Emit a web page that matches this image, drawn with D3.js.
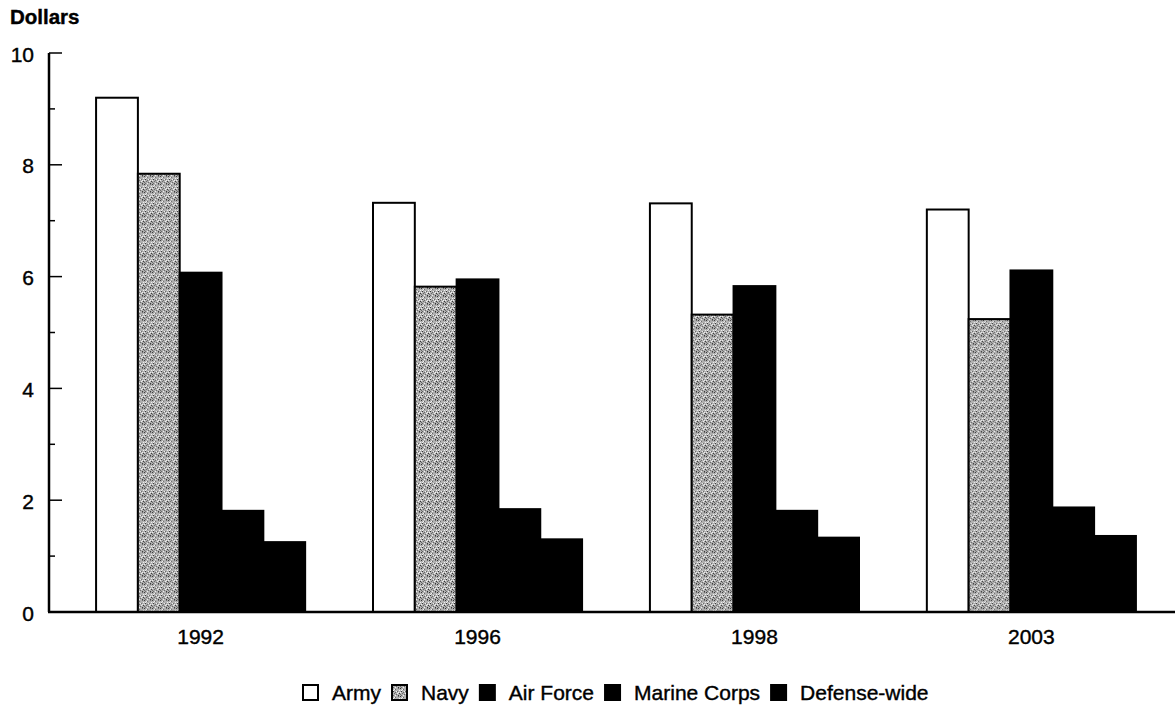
<!DOCTYPE html>
<html>
<head>
<meta charset="utf-8">
<script src="https://cdn.jsdelivr.net/npm/d3@7"></script>
<style>
  body { margin: 0; background: #fff; }
  svg { display: block; }
  text { font-family: "Liberation Sans", Arial, Helvetica, sans-serif; fill: #000; stroke: #000; stroke-width: 0.4px; }
</style>
</head>
<body>
<svg id="chart" width="1175" height="706"></svg>
<script>
const years = ["1992", "1996", "1998", "2003"];
const services = ["Army", "Navy", "Air Force", "Marine Corps", "Defense-wide"];
const army = [9.20, 7.32, 7.31, 7.20];
const navy = [7.84, 5.82, 5.32, 5.24];
const airForce = [6.07, 5.95, 5.83, 6.11];
const marineCorps = [1.81, 1.84, 1.81, 1.87];
const defenseWide = [1.25, 1.30, 1.33, 1.36];
const yTicks = [0, 2, 4, 6, 8, 10];
const yMinorTicks = [1, 3, 5, 7, 9];

const seriesValues = [army, navy, airForce, marineCorps, defenseWide];
const data = years.map((yr, i) => ({
  year: yr,
  values: services.map((s, j) => ({ service: s, value: seriesValues[j][i] }))
}));

const svg = d3.select("#chart");
const defs = svg.append("defs");

// stipple pattern for Navy (fixed texture)
const P = 8;
const pat = defs.append("pattern")
  .attr("id", "stipple").attr("patternUnits", "userSpaceOnUse")
  .attr("width", P).attr("height", P);
pat.append("rect").attr("width", P).attr("height", P).attr("fill", "#b0b0b0");
const darkDots = [[0,0],[3,1],[6,0],[1,3],[5,3],[2,5],[7,5],[4,6],[0,6],[6,7],[3,4],[1,7]];
darkDots.forEach(([dx, dy], k) => {
  pat.append("rect").attr("x", dx).attr("y", dy).attr("width", 1).attr("height", 1)
    .attr("fill", k % 3 === 0 ? "#333" : "#666");
});
const lightDots = [[2,1],[5,5],[1,2],[4,3],[7,2],[3,7],[6,4],[0,4]];
lightDots.forEach(([dx, dy]) => {
  pat.append("rect").attr("x", dx).attr("y", dy).attr("width", 1).attr("height", 1).attr("fill", "#f2f2f2");
});

const fills = {
  "Army": "#ffffff",
  "Navy": "url(#stipple)",
  "Air Force": "#000000",
  "Marine Corps": "#000000",
  "Defense-wide": "#000000"
};

const axisX = 49;
const y = d3.scaleLinear().domain([0, 10]).range([612, 53]);

const x0 = d3.scaleBand().domain(years).range([49, 1183])
  .paddingInner(0.245).paddingOuter(0.17);
const x1 = d3.scaleBand().domain(services).range([0, x0.bandwidth()]);

// Bars
const groups = svg.append("g").selectAll("g").data(data).join("g")
  .attr("transform", d => `translate(${x0(d.year)},0)`);
groups.selectAll("rect").data(d => d.values).join("rect")
  .attr("x", d => x1(d.service))
  .attr("y", d => y(d.value))
  .attr("width", x1.bandwidth())
  .attr("height", d => y(0) - y(d.value))
  .attr("fill", d => fills[d.service])
  .attr("stroke", "#000")
  .attr("stroke-width", 2);

// Y axis
const yAxis = svg.append("g");
yAxis.append("line").attr("x1", axisX).attr("x2", axisX)
  .attr("y1", y(10)).attr("y2", y(0)).attr("stroke", "#000").attr("stroke-width", 2.5);
yAxis.selectAll(".major").data(yTicks).join("line")
  .attr("x1", axisX).attr("x2", axisX + 13)
  .attr("y1", d => y(d)).attr("y2", d => y(d))
  .attr("stroke", "#000").attr("stroke-width", 1.5);
yAxis.selectAll(".minor").data(yMinorTicks).join("line")
  .attr("x1", axisX).attr("x2", axisX + 6)
  .attr("y1", d => y(d)).attr("y2", d => y(d))
  .attr("stroke", "#000").attr("stroke-width", 1.5);
yAxis.selectAll("text").data(yTicks).join("text")
  .attr("x", 34).attr("y", d => y(d) + 8.5)
  .attr("text-anchor", "end").attr("font-size", 21)
  .text(d => d);

// X axis line
svg.append("line").attr("x1", axisX - 1).attr("x2", 1175)
  .attr("y1", y(0)).attr("y2", y(0)).attr("stroke", "#000").attr("stroke-width", 2.5);
svg.append("g").selectAll("text").data(years).join("text")
  .attr("x", d => x0(d) + x0.bandwidth() / 2)
  .attr("y", 644)
  .attr("text-anchor", "middle").attr("font-size", 21)
  .text(d => d);

// Title
svg.append("text").attr("x", 10).attr("y", 24)
  .attr("font-size", 20.5).attr("font-weight", "bold").text("Dollars");

// Legend
const legend = svg.append("g");
let lx = 303;
services.forEach(s => {
  legend.append("rect").attr("x", lx).attr("y", 685).attr("width", 15).attr("height", 15)
    .attr("fill", fills[s])
    .attr("stroke", "#000").attr("stroke-width", 2);
  const t = legend.append("text").attr("x", lx + 29).attr("y", 700)
    .attr("font-size", 21).text(s);
  const w = t.node().getComputedTextLength();
  lx = lx + 29 + w + 11;
});
</script>
</body>
</html>
